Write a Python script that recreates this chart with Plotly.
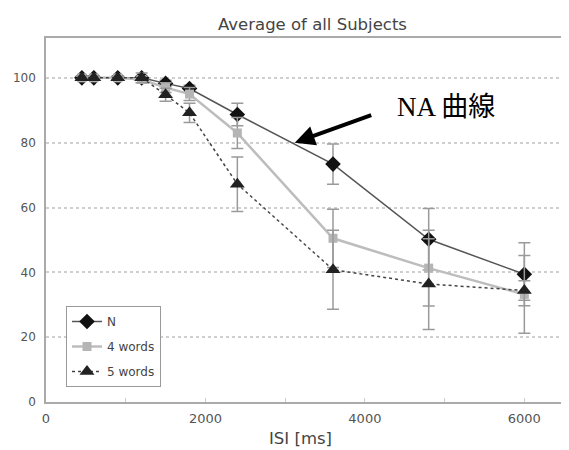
import plotly.graph_objects as go

isi = [450, 600, 900, 1200, 1500, 1800, 2400, 3600, 4800, 6000]
n_vals = [100, 100, 100, 100, 98.3, 96.7, 88.7, 73.4, 50.2, 39.4]
n_err = [0.5, 0.5, 0.5, 0.5, 1, 1, 3.5, 6.2, 9.5, 9.7]
w4_vals = [100, 100, 100, 99.5, 97, 95, 83, 50.5, 41.3, 33.2]
w4_err = [0.5, 0.5, 0.5, 1, 1.5, 2, 4.8, 9, 11.7, 12]
w5_vals = [100, 100, 100, 100, 94.8, 89.2, 67.2, 40.8, 36.4, 34.4]
w5_err = [0.5, 0.5, 0.5, 1.5, 2, 3, 8.4, 12.2, 14, 3]

series_names = ["N", "4 words", "5 words"]
title_text = "Average of all Subjects"
x_title = "ISI [ms]"
note_text = "NA 曲線"
note_point = (3120, 80)

# page body has an 8px default margin; plot area spans px 46..569 (x), 38..402 (y)
PL, PR, PT, PB = 46, 569, 38, 402
PW, PH = PR - PL, PB - PT

fig = go.Figure()
err_style = dict(type="data", color="#9a9a9a", thickness=1.5, width=6, visible=True)

fig.add_trace(go.Scatter(
    x=isi, y=n_vals, name=series_names[0], mode="lines+markers",
    line=dict(color="#555555", width=1.5),
    marker=dict(symbol="diamond", size=12, color="#111111"),
    error_y=dict(array=n_err, **err_style), legendgroup="a",
))
fig.add_trace(go.Scatter(
    x=isi, y=w4_vals, name=series_names[1], mode="lines+markers",
    line=dict(color="#bdbdbd", width=2.5),
    marker=dict(symbol="square", size=9, color="#b5b5b5"),
    error_y=dict(array=w4_err, **err_style), legendgroup="b",
))
fig.add_trace(go.Scatter(
    x=isi, y=w5_vals, name=series_names[2], mode="lines+markers",
    line=dict(color="#444444", width=1.5, dash="dot"),
    marker=dict(symbol="triangle-up", size=13, color="#222222"),
    error_y=dict(array=w5_err, **err_style), legendgroup="c",
))

fig.update_layout(
    width=561, height=442,
    margin=dict(l=PL - 8, r=0, t=PT - 8, b=450 - PB),
    paper_bgcolor="white", plot_bgcolor="white",
    font=dict(family="DejaVu Sans", color="#444444"),
    showlegend=True,
    legend=dict(
        x=(66 - PL) / PW, y=(PB - 306) / PH, xanchor="left", yanchor="top",
        bgcolor="white", bordercolor="#9a9a9a", borderwidth=1,
        font=dict(size=12, color="#444444"), tracegroupgap=6,
    ),
    annotations=[
        dict(text=title_text, xref="paper", yref="paper", x=(312 - PL) / PW, y=(PB - 25) / PH,
             xanchor="center", yanchor="middle", showarrow=False,
             font=dict(size=16.5, color="#444444")),
        dict(text=x_title, xref="paper", yref="paper", x=(300 - PL) / PW, y=(PB - 438) / PH,
             xanchor="center", yanchor="middle", showarrow=False,
             font=dict(size=16.5, color="#444444")),
        dict(text="", x=note_point[0], y=note_point[1], xref="x", yref="y",
             showarrow=True, ax=78, ay=-28, arrowcolor="black", arrowwidth=4,
             arrowhead=2, arrowsize=1),
        dict(text=note_text, xref="paper", yref="paper", x=(445.5 - PL) / PW,
             y=(PB - 107) / PH, xanchor="center", yanchor="middle", showarrow=False,
             font=dict(size=27, color="black", family="Liberation Serif, Noto Sans CJK JP")),
    ],
)
fig.update_xaxes(
    range=[0, 6560], tickvals=[0, 2000, 4000, 6000],
    showgrid=False, zeroline=False,
    showline=True, linecolor="#aaaaaa", linewidth=1.5, mirror=True,
    ticks="inside", ticklen=4, tickcolor="#cccccc",
    minor=dict(ticks="inside", dtick=1000, ticklen=4, tickcolor="#cccccc"),
    tickfont=dict(size=13, color="#555555"), ticklabelstandoff=4,
)
fig.update_yaxes(
    range=[0, 112.3], tickvals=[0, 20, 40, 60, 80, 100],
    showgrid=True, gridcolor="#cfcfcf", griddash="dot", gridwidth=1.5,
    zeroline=False, showline=True, linecolor="#aaaaaa", linewidth=1.5,
    tickfont=dict(size=12, color="#555555"), ticklabelstandoff=6,
)

fig.write_html("out.html")
